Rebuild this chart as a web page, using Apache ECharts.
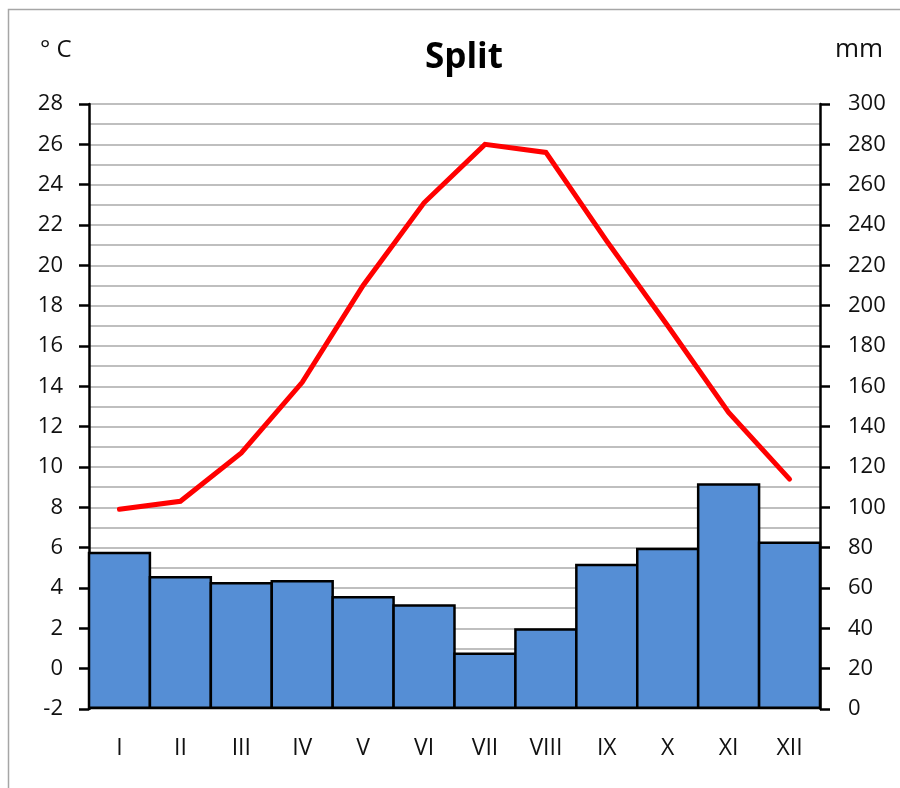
<!DOCTYPE html>
<html>
<head>
<meta charset="utf-8">
<script src="https://cdn.jsdelivr.net/npm/echarts@6/dist/echarts.min.js"></script>
<style>html,body{margin:0;padding:0;background:#fff}#c{width:900px;height:788px}</style>
</head>
<body>
<div id="c"></div>
<script>
const months = ['I','II','III','IV','V','VI','VII','VIII','IX','X','XI','XII'];
const temperature = [7.9, 8.3, 10.7, 14.2, 19.0, 23.1, 26.0, 25.6, 21.2, 17.0, 12.7, 9.4];
const precipitation = [78, 66, 63, 64, 56, 52, 28, 40, 72, 80, 112, 83];
const tempTicks = {min: -2, max: 28, interval: 2};
const precTicks = {min: 0, max: 300, interval: 20};

const font = "'Open Sans', 'Noto Sans', sans-serif";
const chart = echarts.init(document.getElementById('c'), null, {renderer: 'canvas'});
chart.setOption({
  animation: false,
  backgroundColor: '#fff',
  title: {
    text: 'Split', left: 459, top: 36, textAlign: 'center',
    textStyle: {fontFamily: font, fontSize: 35, fontWeight: 'bold', color: '#000'}
  },
  graphic: [
    {type: 'rect', shape: {x: 8.5, y: 9.5, width: 905, height: 800}, style: {fill: 'none', stroke: '#a6a6a6', lineWidth: 1.5}, silent: true},
    {type: 'text', left: 40, top: 38, style: {text: '° C', fontFamily: font, fontSize: 24, fill: '#111'}},
    {type: 'text', left: 835, top: 37, style: {text: 'mm', fontFamily: font, fontSize: 26, fill: '#111'}}
  ],
  grid: {left: 89, right: 80, top: 104, bottom: 79},
  xAxis: {
    type: 'category', data: months, boundaryGap: true,
    axisLine: {lineStyle: {color: '#000', width: 2.5}},
    axisTick: {show: true, interval: 0, length: 9, lineStyle: {color: '#000', width: 2}},
    axisLabel: {interval: 0, margin: 28, fontFamily: font, fontSize: 23, color: '#111'}
  },
  yAxis: [
    {
      type: 'value', min: tempTicks.min, max: tempTicks.max, interval: tempTicks.interval, position: 'left',
      axisLine: {show: true, lineStyle: {color: '#000', width: 2.5}},
      axisTick: {show: true, length: 10, lineStyle: {color: '#000', width: 2.5}},
      axisLabel: {margin: 26, fontFamily: font, fontSize: 22, color: '#111'},
      splitLine: {show: true, lineStyle: {color: '#bfbfbf', width: 2}},
      minorTick: {show: false, splitNumber: 2},
      minorSplitLine: {show: true, lineStyle: {color: '#bfbfbf', width: 2}}
    },
    {
      type: 'value', min: precTicks.min, max: precTicks.max, interval: precTicks.interval, position: 'right',
      axisLine: {show: true, lineStyle: {color: '#000', width: 2.5}},
      axisTick: {show: true, length: 10, lineStyle: {color: '#000', width: 2.5}},
      axisLabel: {margin: 28, fontFamily: font, fontSize: 22, color: '#111'},
      splitLine: {show: false}
    }
  ],
  series: [
    {
      type: 'bar', yAxisIndex: 1, data: precipitation, barWidth: 63.4,
      itemStyle: {color: '#558ed5', borderColor: '#000', borderWidth: 2.5}, z: 2
    },
    {
      type: 'line', yAxisIndex: 0, data: temperature, showSymbol: false, symbol: 'none',
      lineStyle: {color: '#ff0000', width: 5, cap: 'round', join: 'miter'}, z: 3
    }
  ]
});
</script>
</body>
</html>
